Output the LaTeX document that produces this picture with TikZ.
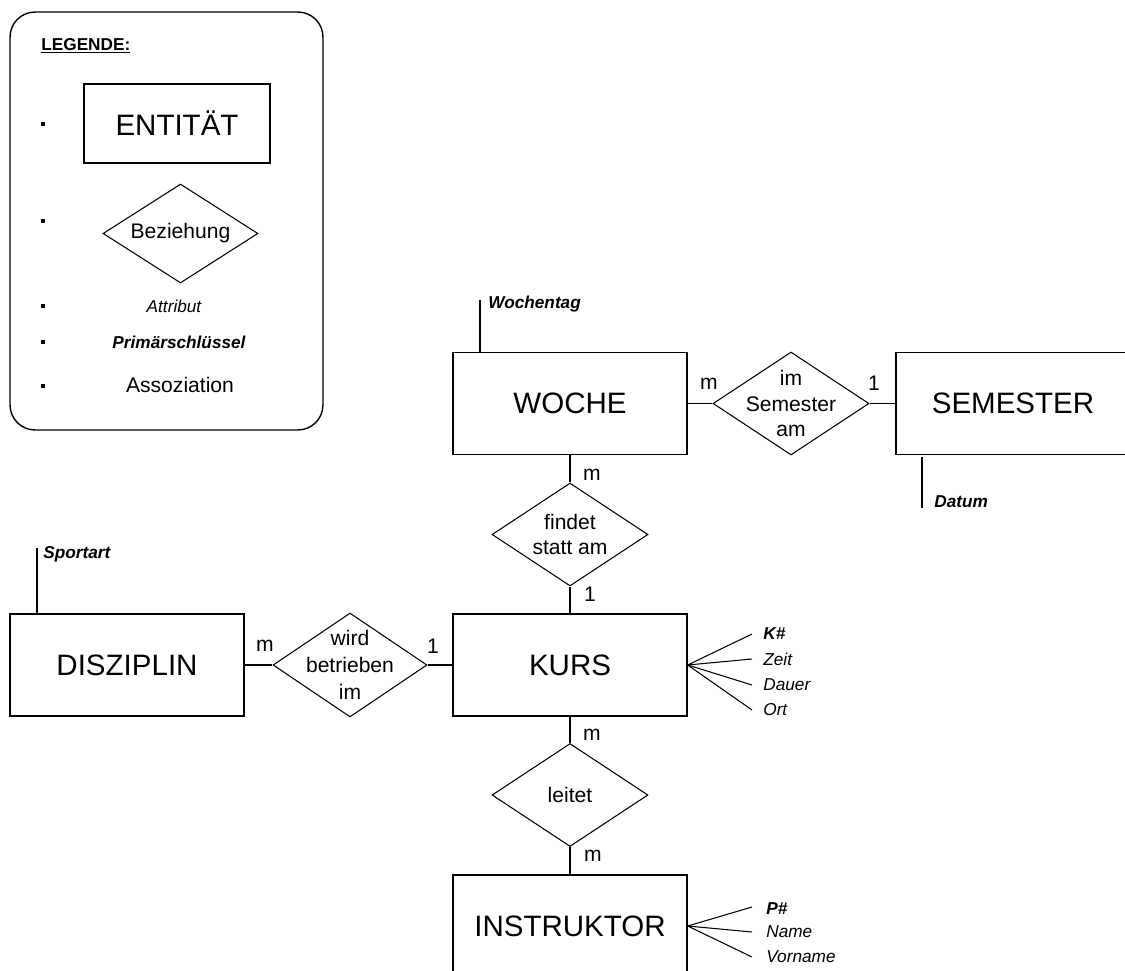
\documentclass[tikz,border=0pt]{standalone}
\usepackage{fontspec}
\setmainfont{Liberation Sans}
\usetikzlibrary{shapes.geometric}
\begin{document}
\begin{tikzpicture}[x=0.02cm,y=-0.02cm,
  entity/.style={draw, line width=0.8pt, rectangle, inner sep=0pt, minimum width=4.68cm, minimum height=2.04cm, font=\fontsize{16.8}{20}\selectfont},
  rel/.style={draw, line width=0.6pt, diamond, inner sep=0pt, minimum width=3.12cm, minimum height=2.06cm},
  reltext/.style={align=center, font=\fontsize{12}{14.7}\selectfont, inner sep=0pt},
  card/.style={font=\fontsize{12}{14}\selectfont, inner sep=0pt},
  attr/.style={font=\fontsize{9.8}{12}\selectfont\itshape, inner sep=0pt, anchor=west},
  keyattr/.style={font=\fontsize{9.8}{12}\selectfont\bfseries\itshape, inner sep=0pt, anchor=west},
  conn/.style={line width=0.7pt},
  bulletbox/.style={fill=black, draw=none, inner sep=0pt, minimum size=0.08cm},
  legendframe/.style={draw, line width=0.8pt, rounded corners=0.5cm, inner sep=0pt, minimum width=6.26cm, minimum height=8.36cm}
]
\useasboundingbox (0,0) rectangle (1125,970);
\clip (0,0) rectangle (1125,970);

% ---------- Legend ----------
\node[legendframe] (legend) at (166.5,221) {};
\node[anchor=base west, font=\fontsize{9.8}{12}\selectfont\bfseries, inner sep=0pt] (legtitle) at (41,50) {\underline{LEGENDE:}};
\node[bulletbox] (b1) at (43,124) {};
\node[bulletbox] (b2) at (43,221) {};
\node[bulletbox] (b3) at (43,306) {};
\node[bulletbox] (b4) at (43,342) {};
\node[bulletbox] (b5) at (43,386) {};
\node[entity, minimum width=3.72cm, minimum height=1.58cm] (legent) at (177,123.5) {ENTITÄT};
\node[rel, minimum width=3.1cm, minimum height=1.98cm, label={[reltext]center:{Beziehung}}] (legrel) at (180.5,233.5) {};
\node[font=\fontsize{9.8}{12}\selectfont\itshape, inner sep=0pt] (legattr) at (174,306) {Attribut};
\node[font=\fontsize{9.8}{12}\selectfont\bfseries\itshape, inner sep=0pt] (legkey) at (179,342) {Primärschlüssel};
\node[font=\fontsize{12}{14}\selectfont, inner sep=0pt] (legassoc) at (180,385) {Assoziation};

% ---------- Entities ----------
\node[entity] (woche) at (570,403.5) {WOCHE};
\node[entity] (semester) at (1013,403.5) {SEMESTER};
\node[entity] (kurs) at (570,665) {KURS};
\node[entity] (disziplin) at (127,665) {DISZIPLIN};
\node[entity] (instruktor) at (570,926) {INSTRUKTOR};

% ---------- Relationships ----------
\node[rel, label={[reltext]center:{im\\Semester\\am}}] (r1) at (791,403.5) {};
\node[rel, label={[reltext]center:{findet\\statt am}}] (r2) at (570,534.5) {};
\node[rel, minimum width=3.08cm, minimum height=2.08cm, label={[reltext, font=\fontsize{12}{15.5}\selectfont]center:{wird\\betrieben\\im}}] (r3) at (350,665) {};
\node[rel, label={[reltext]center:{leitet}}] (r4) at (570,795) {};

% ---------- Connectors ----------
\draw[conn] (woche.east) -- (r1.west);
\draw[conn] (r1.east) -- (semester.west);
\draw[conn] (woche.south) -- (r2.north);
\draw[conn] (r2.south) -- (kurs.north);
\draw[conn] (disziplin.east) -- (r3.west);
\draw[conn] (r3.east) -- (kurs.west);
\draw[conn] (kurs.south) -- (r4.north);
\draw[conn] (r4.south) -- (instruktor.north);

% ---------- Cardinalities ----------
\node[card] (c1) at (709,384) {m};
\node[card] (c2) at (874,383) {1};
\node[card] (c3) at (592,475) {m};
\node[card] (c4) at (590,594) {1};
\node[card] (c5) at (265,646) {m};
\node[card] (c6) at (433,646) {1};
\node[card] (c7) at (592,735) {m};
\node[card] (c8) at (593,856) {m};

% ---------- Attributes ----------
\coordinate (wt) at (480,300);
\draw[conn] (wt) -- (wt |- woche.north);
\node[keyattr] (wochentag) at (488,304) {Wochentag};

\coordinate (dt) at (922,508);
\draw[conn] (dt) -- ([yshift=-0.04cm]dt |- semester.south);
\node[keyattr] (datum) at (934,502) {Datum};

\coordinate (sp) at (37,548);
\draw[conn] (sp) -- (sp |- disziplin.north);
\node[keyattr] (sportart) at (43,554) {Sportart};

\coordinate (k1) at (752,634);
\coordinate (k2) at (752,659);
\coordinate (k3) at (752,685);
\coordinate (k4) at (752,710);
\foreach \c in {k1,k2,k3,k4} \draw[line width=0.6pt] (kurs.east) -- (\c);
\node[keyattr] (kk) at (763,634) {K\#};
\node[attr] (kzeit) at (763,659) {Zeit};
\node[attr] (kdauer) at (763,685) {Dauer};
\node[attr] (kort) at (763,710) {Ort};

\coordinate (p1) at (752,907);
\coordinate (p2) at (752,932);
\coordinate (p3) at (752,957);
\foreach \c in {p1,p2,p3} \draw[line width=0.6pt] (instruktor.east) -- (\c);
\node[keyattr] (pp) at (766,909) {P\#};
\node[attr] (pname) at (766,932) {Name};
\node[attr] (pvorname) at (766,957) {Vorname};
\end{tikzpicture}
\end{document}
